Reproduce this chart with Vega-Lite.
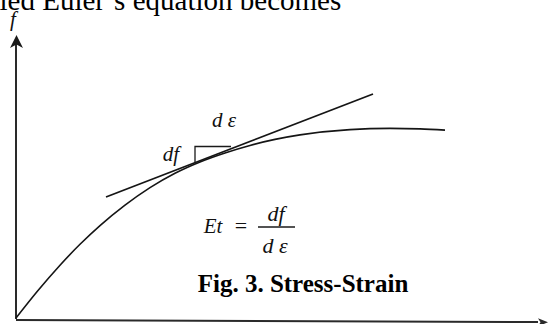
{
  "$schema": "https://vega.github.io/schema/vega-lite/v6.json",
  "width": 550,
  "height": 324,
  "autosize": {"type": "none"},
  "padding": 0,
  "background": "white",
  "config": {"view": {"stroke": null}},
  "datasets": {
    "curve": [
      {"e": 0.0, "f": 0.01},
      {"e": 0.22, "f": 0.285},
      {"e": 0.44, "f": 0.538},
      {"e": 0.64, "f": 0.747},
      {"e": 0.84, "f": 0.934},
      {"e": 1.09, "f": 1.139},
      {"e": 1.34, "f": 1.314},
      {"e": 1.59, "f": 1.458},
      {"e": 1.84, "f": 1.571},
      {"e": 2.09, "f": 1.661},
      {"e": 2.34, "f": 1.736},
      {"e": 2.59, "f": 1.796},
      {"e": 2.84, "f": 1.841},
      {"e": 3.34, "f": 1.894},
      {"e": 3.74, "f": 1.906},
      {"e": 4.04, "f": 1.901},
      {"e": 4.29, "f": 1.889}
    ],
    "tangent": [
      {"part": "tangent", "seq": 0, "e": 0.9, "f": 1.22},
      {"part": "tangent", "seq": 1, "e": 3.57, "f": 2.25}
    ],
    "axes": [
      {"part": "f-axis", "seq": 0, "e": 0.0, "f": 0.0},
      {"part": "f-axis", "seq": 1, "e": 0.0, "f": 2.8},
      {"part": "e-axis", "seq": 0, "e": 0.0, "f": -0.01},
      {"part": "e-axis", "seq": 1, "e": 5.22, "f": -0.03}
    ],
    "thin": [
      {"part": "right-angle", "seq": 0, "e": 1.79, "f": 1.564},
      {"part": "right-angle", "seq": 1, "e": 1.79, "f": 1.725},
      {"part": "right-angle", "seq": 2, "e": 2.15, "f": 1.725},
      {"part": "fraction-bar", "seq": 0, "e": 2.42, "f": 0.92},
      {"part": "fraction-bar", "seq": 1, "e": 2.79, "f": 0.92}
    ],
    "upArrow": [{"e": 0.005, "f": 2.775}],
    "rightArrow": [{"e": 5.27, "f": -0.033}],
    "italic": [
      {"label": "f", "e": -0.03, "f": 2.93},
      {"label": "d ε", "e": 2.08, "f": 1.92},
      {"label": "df", "e": 1.55, "f": 1.58},
      {"label": "Et", "e": 1.97, "f": 0.86}
    ],
    "fraction": [
      {"label": "df", "e": 2.6, "f": 0.98},
      {"label": "d ε", "e": 2.59, "f": 0.66}
    ],
    "plain": [
      {"label": "=", "e": 2.25, "f": 0.86}
    ],
    "caption": [
      {"label": "Fig. 3. Stress-Strain", "e": 2.87, "f": 0.27}
    ],
    "runningText": [
      {"label": "ied Euler’s equation becomes", "e": -0.165, "f": 3.09}
    ]
  },
  "encoding": {
    "x": {
      "field": "e",
      "type": "quantitative",
      "scale": {"domain": [-0.16, 5.34], "nice": false, "zero": false},
      "axis": null
    },
    "y": {
      "field": "f",
      "type": "quantitative",
      "scale": {"domain": [-0.05, 3.19], "nice": false, "zero": false},
      "axis": null
    }
  },
  "layer": [
    {
      "data": {"name": "axes"},
      "mark": {"type": "line", "stroke": "#2a2a2a", "strokeWidth": 2},
      "encoding": {"detail": {"field": "part"}, "order": {"field": "seq"}}
    },
    {
      "data": {"name": "curve"},
      "mark": {"type": "line", "interpolate": "monotone", "stroke": "#151515", "strokeWidth": 1.6},
      "encoding": {}
    },
    {
      "data": {"name": "tangent"},
      "mark": {"type": "line", "stroke": "#151515", "strokeWidth": 1.8},
      "encoding": {"detail": {"field": "part"}, "order": {"field": "seq"}}
    },
    {
      "data": {"name": "thin"},
      "mark": {"type": "line", "stroke": "#1a1a1a", "strokeWidth": 1.3},
      "encoding": {"detail": {"field": "part"}, "order": {"field": "seq"}}
    },
    {
      "data": {"name": "upArrow"},
      "mark": {"type": "point", "shape": "M0,-1L-1,1L0,0.45L1,1Z", "filled": true, "size": 169, "color": "#1a1a1a", "opacity": 1}
    },
    {
      "data": {"name": "rightArrow"},
      "mark": {"type": "point", "shape": "M1,0L-1,-0.8L-0.5,0L-1,0.8Z", "filled": true, "size": 100, "color": "#2a2a2a", "opacity": 1}
    },
    {
      "data": {"name": "italic"},
      "mark": {"type": "text", "font": "Liberation Serif", "fontStyle": "italic", "fontSize": 21, "align": "center", "baseline": "alphabetic", "color": "#111"},
      "encoding": {"text": {"field": "label"}}
    },
    {
      "data": {"name": "fraction"},
      "mark": {"type": "text", "font": "Liberation Serif", "fontStyle": "italic", "fontSize": 22, "align": "center", "baseline": "alphabetic", "color": "#111"},
      "encoding": {"text": {"field": "label"}}
    },
    {
      "data": {"name": "plain"},
      "mark": {"type": "text", "font": "Liberation Serif", "fontSize": 22, "align": "center", "baseline": "alphabetic", "color": "#111"},
      "encoding": {"text": {"field": "label"}}
    },
    {
      "data": {"name": "caption"},
      "mark": {"type": "text", "font": "Liberation Serif", "fontWeight": "bold", "fontSize": 25, "align": "center", "baseline": "alphabetic", "color": "#000"},
      "encoding": {"text": {"field": "label"}}
    },
    {
      "data": {"name": "runningText"},
      "mark": {"type": "text", "font": "Liberation Serif", "fontSize": 29, "align": "left", "baseline": "alphabetic", "color": "#000"},
      "encoding": {"text": {"field": "label"}}
    }
  ]
}
